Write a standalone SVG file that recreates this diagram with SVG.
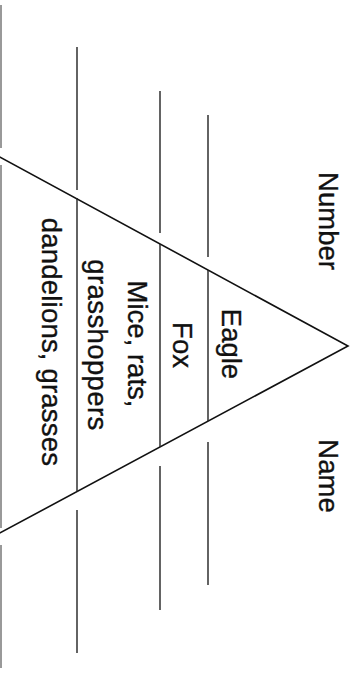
<svg xmlns="http://www.w3.org/2000/svg" width="354" height="691" viewBox="0 0 354 691">
<style>
.edge{fill:none;stroke:#111;stroke-width:1.6;stroke-linejoin:miter}
.div{stroke:#222;stroke-width:1.4;fill:none}
.page{stroke:#555;stroke-width:1.2;fill:none}
.t{font-family:"Liberation Sans",Arial,sans-serif;font-size:27.5px;fill:#111;stroke:#111;stroke-width:0.35;text-anchor:middle}
</style>
<rect width="354" height="691" fill="#fff"/>
<g id="page-edge">
<line class="page" x1="1" y1="5" x2="1" y2="148"/>
<line class="page" x1="1" y1="165" x2="1" y2="528"/>
<line class="page" x1="1" y1="545" x2="1" y2="668"/>
</g>
<g id="pyramid">
<polyline class="edge" points="-2,156 348,346 -2,534"/>
</g>
<g id="dividers">
<line class="div" x1="77" y1="198" x2="77" y2="492"/>
<line class="div" x1="160" y1="244" x2="160" y2="447"/>
<line class="div" x1="208" y1="270" x2="208" y2="421"/>
</g>
<g id="answer-lines">
<line class="div" x1="77" y1="47" x2="77" y2="190"/>
<line class="div" x1="77" y1="510" x2="77" y2="653"/>
<line class="div" x1="160" y1="91" x2="160" y2="233"/>
<line class="div" x1="160" y1="466" x2="160" y2="610"/>
<line class="div" x1="208" y1="115" x2="208" y2="257"/>
<line class="div" x1="208" y1="442" x2="208" y2="585"/>
</g>
<g id="level-eagle"><text class="t" transform="translate(222,344) rotate(90)">Eagle</text></g>
<g id="level-fox"><text class="t" transform="translate(173,345) rotate(90)">Fox</text></g>
<g id="level-mice"><text class="t" transform="translate(128,344) rotate(90)">Mice, rats,</text><text class="t" transform="translate(88,345) rotate(90)" letter-spacing="0.4">grasshoppers</text></g>
<g id="level-plants"><text class="t" transform="translate(42,342) rotate(90)" letter-spacing="0.2">dandelions, grasses</text></g>
<g id="label-number"><text class="t" transform="translate(319,221) rotate(90)">Number</text></g>
<g id="label-name"><text class="t" transform="translate(319,476) rotate(90)">Name</text></g>
</svg>
